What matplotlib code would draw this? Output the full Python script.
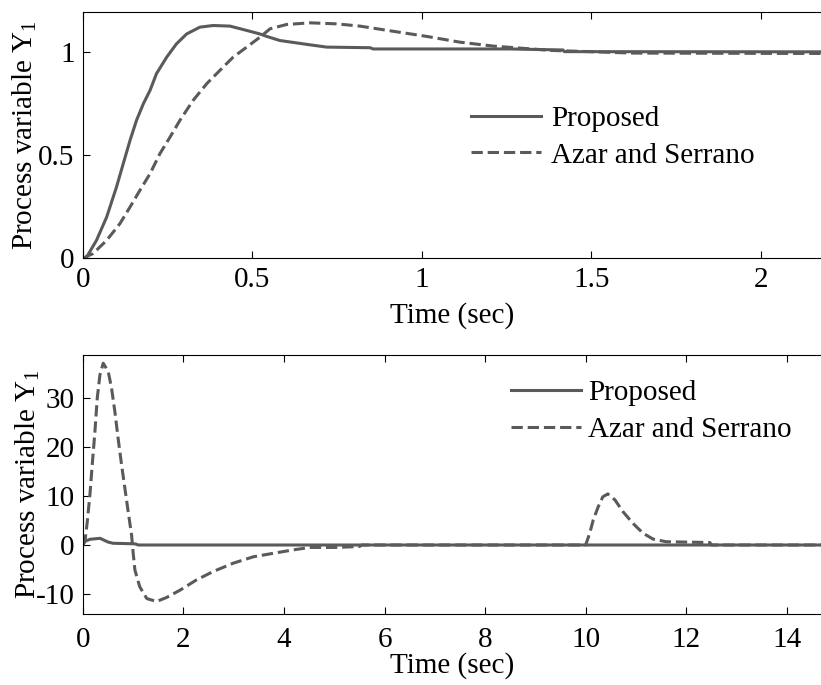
import matplotlib
matplotlib.use('Agg')
import matplotlib.pyplot as plt

plt.rcParams['font.family'] = ['Liberation Serif', 'DejaVu Serif']
plt.rcParams['mathtext.fontset'] = 'custom'
plt.rcParams['mathtext.rm'] = 'Liberation Serif'
plt.rcParams['mathtext.it'] = 'Liberation Serif'
plt.rcParams['axes.unicode_minus'] = False

# Respuesta al escalon (grafico superior)
t1_prop = [0, 0.011, 0.040, 0.070, 0.099, 0.119, 0.139, 0.158, 0.178, 0.198, 0.217,
           0.247, 0.276, 0.306, 0.345, 0.384, 0.434, 0.483, 0.522, 0.542, 0.581,
           0.670, 0.719, 0.847, 0.856, 1.26, 1.416, 1.42, 2.2]
y1_prop = [0, 0.006, 0.087, 0.20, 0.346, 0.46, 0.573, 0.67, 0.75, 0.816, 0.897,
           0.977, 1.042, 1.09, 1.123, 1.131, 1.128, 1.107, 1.09, 1.078, 1.058,
           1.037, 1.026, 1.023, 1.017, 1.017, 1.012, 1.004, 1.003]

t1_azar = [0, 0.030, 0.070, 0.109, 0.139, 0.168, 0.198, 0.227, 0.257, 0.286, 0.325,
           0.365, 0.404, 0.443, 0.483, 0.522, 0.552, 0.601, 0.670, 0.748, 0.817,
           0.915, 1.014, 1.112, 1.21, 1.38, 1.62, 2.2]
y1_azar = [0, 0.023, 0.087, 0.168, 0.249, 0.33, 0.411, 0.508, 0.589, 0.67, 0.767,
           0.848, 0.913, 0.977, 1.026, 1.074, 1.115, 1.136, 1.144, 1.139, 1.128,
           1.103, 1.078, 1.05, 1.031, 1.01, 0.997, 0.995]

# Respuesta a la perturbacion (grafico inferior)
t2_prop = [0, 0.02, 0.14, 0.34, 0.5, 0.6, 1.0, 1.05, 1.1, 15]
y2_prop = [0, 0.67, 1.16, 1.36, 0.6, 0.35, 0.25, 0.2, 0.0, 0.0]

t2_azar = [0, 0.04, 0.086, 0.139, 0.185, 0.239, 0.285, 0.338, 0.404, 0.503, 0.57,
           0.636, 0.70, 0.769, 0.835, 0.90, 0.968, 1.0, 1.034, 1.13, 1.27, 1.465,
           1.66, 1.93, 2.26, 2.59, 2.99, 3.39, 3.78, 4.18, 4.51, 5.04, 5.5, 5.55,
           10.0, 10.08, 10.15, 10.25, 10.34, 10.44, 10.58, 10.74, 10.94, 11.14,
           11.34, 11.6, 12.47, 12.5, 15]
y2_azar = [0, 0.67, 4.7, 10.2, 16.3, 23.1, 29.9, 34.6, 37.0, 35.3, 31.9,
           27.1, 21.7, 16.3, 11.5, 6.8, 2.0, -1.7, -5.1, -8.5, -10.9, -11.5,
           -10.7, -9.2, -7.1, -5.4, -3.7, -2.4, -1.7, -1.0, -0.5, -0.5, -0.3, 0.0,
           0.0, 2.4, 5.1, 7.8, 9.8, 10.4, 9.2, 6.8, 4.4, 2.4,
           1.2, 0.67, 0.5, 0.0, 0.0]

col = '#5a5a5a'
lw = 2.2
fs = 21

fig = plt.figure(figsize=(8.21, 6.85), dpi=100)
ax1 = fig.add_axes([0.101, 0.623, 0.899, 0.359])
ax2 = fig.add_axes([0.101, 0.1036, 0.899, 0.3784])

ax1.plot(t1_prop, y1_prop, color=col, lw=lw, label='Proposed')
ax1.plot(t1_azar, y1_azar, color=col, lw=lw, ls='--', label='Azar and Serrano')
ax1.set_xlim(0, 2.177)
ax1.set_ylim(0, 1.195)
ax1.set_xticks([0, 0.5, 1, 1.5, 2])
ax1.set_xticklabels(['0', '0.5', '1', '1.5', '2'])
ax1.set_yticks([0, 0.5, 1])
ax1.set_yticklabels(['0', '0.5', '1'])

ax2.plot(t2_prop, y2_prop, color=col, lw=lw, label='Proposed')
ax2.plot(t2_azar, y2_azar, color=col, lw=lw, ls='--', label='Azar and Serrano')
ax2.set_xlim(0, 14.68)
ax2.set_ylim(-14.05, 38.7)
ax2.set_xticks([0, 2, 4, 6, 8, 10, 12, 14])
ax2.set_yticks([-10, 0, 10, 20, 30])

for ax in (ax1, ax2):
    ax.spines['right'].set_visible(False)
    ax.tick_params(direction='in', length=5, width=0.8, top=True, right=False,
                   labelsize=fs)
    ax.set_ylabel('Process variable Y$_\\mathrm{1}$', fontsize=fs)

ax1.tick_params(axis='x', pad=6)
ax2.tick_params(axis='x', pad=9)
ax1.tick_params(axis='y', pad=6)
ax2.tick_params(axis='y', pad=6)
ax1.set_xlabel('Time (sec)', fontsize=fs, labelpad=7)
ax2.set_xlabel('Time (sec)', fontsize=fs, labelpad=0)
ax1.yaxis.set_label_coords(-0.06, 0.5)
ax2.yaxis.set_label_coords(-0.056, 0.5)

ax1.legend(loc='upper left', bbox_to_anchor=(0.506, 0.68), frameon=False,
           fontsize=fs, handlelength=2.4, handletextpad=0.35, labelspacing=0.35,
           borderpad=0)
ax2.legend(loc='upper left', bbox_to_anchor=(0.56, 0.96), frameon=False,
           fontsize=fs, handlelength=2.4, handletextpad=0.25, labelspacing=0.35,
           borderpad=0)

plt.savefig('out.png', dpi=100)
